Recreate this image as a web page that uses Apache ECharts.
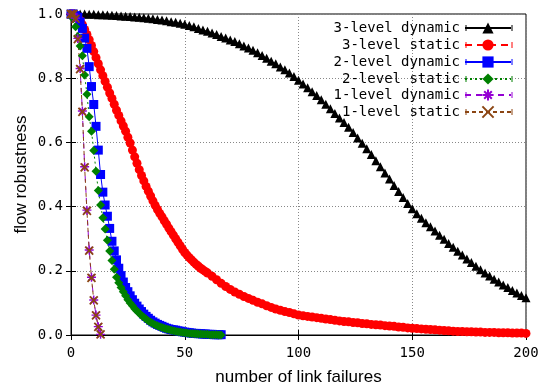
<!DOCTYPE html>
<html><head><meta charset="utf-8">
<script src="https://cdn.jsdelivr.net/npm/echarts@6/dist/echarts.min.js"></script>
<style>html,body{margin:0;padding:0;background:#fff}#c{width:548px;height:387px}</style>
</head><body><div id="c"></div>
<script>
// ---- data ----
const seriesNames = ['3-level dynamic','3-level static','2-level dynamic','2-level static','1-level dynamic','1-level static'];
const xTicks = [0,50,100,150,200];
const yTicks = [0.0,0.2,0.4,0.6,0.8,1.0];

// 3-level dynamic, sampled every 2 failures (x = 0,2,...,200)
const x3d = [0,2,4,6,8,10,12,14,16,18,20,22,24,26,28,30,32,34,36,38,40,42,44,46,48,50,52,54,56,58,60,62,64,66,68,70,72,74,76,78,80,82,84,86,88,90,92,94,96,98,100,102,104,106,108,110,112,114,116,118,120,122,124,126,128,130,132,134,136,138,140,142,144,146,148,150,152,154,156,158,160,162,164,166,168,170,172,174,176,178,180,182,184,186,188,190,192,194,196,198,200];
const dyn3 = [1.000,1.000,1.000,1.000,0.999,0.999,0.998,0.998,0.997,0.996,0.995,0.994,0.993,0.992,0.991,0.990,0.988,0.987,0.985,0.983,0.981,0.979,0.976,0.974,0.971,0.968,0.964,0.960,0.955,0.950,0.946,0.941,0.936,0.930,0.925,0.919,0.914,0.907,0.900,0.894,0.887,0.879,0.871,0.862,0.853,0.845,0.835,0.826,0.816,0.805,0.794,0.782,0.770,0.758,0.746,0.733,0.719,0.705,0.690,0.676,0.662,0.647,0.631,0.614,0.597,0.580,0.562,0.543,0.524,0.505,0.486,0.466,0.447,0.428,0.410,0.393,0.378,0.364,0.350,0.337,0.324,0.311,0.298,0.285,0.273,0.261,0.249,0.237,0.226,0.214,0.203,0.193,0.184,0.174,0.165,0.156,0.148,0.139,0.131,0.123,0.116];

// 3-level static: every failure up to 60, then every 2
const x3s = [0,1,2,3,4,5,6,7,8,9,10,11,12,13,14,15,16,17,18,19,20,21,22,23,24,25,26,27,28,29,30,31,32,33,34,35,36,37,38,39,40,41,42,43,44,45,46,47,48,49,50,51,52,53,54,55,56,57,58,59,60,62,64,66,68,70,72,74,76,78,80,82,84,86,88,90,92,94,96,98,100,102,104,106,108,110,112,114,116,118,120,122,124,126,128,130,132,134,136,138,140,142,144,146,148,150,152,154,156,158,160,162,164,166,168,170,172,174,176,178,180,182,184,186,188,190,192,194,196,198,200];
const sta3 = [1.000,0.999,0.996,0.989,0.980,0.967,0.952,0.936,0.920,0.902,0.883,0.864,0.845,0.826,0.808,0.790,0.772,0.754,0.737,0.719,0.700,0.684,0.667,0.651,0.635,0.616,0.598,0.576,0.555,0.535,0.515,0.497,0.480,0.463,0.448,0.433,0.418,0.404,0.391,0.379,0.368,0.356,0.345,0.333,0.322,0.311,0.300,0.289,0.278,0.267,0.257,0.249,0.241,0.234,0.227,0.220,0.214,0.208,0.203,0.198,0.193,0.183,0.172,0.161,0.151,0.142,0.134,0.127,0.120,0.114,0.108,0.102,0.097,0.091,0.086,0.081,0.077,0.073,0.070,0.066,0.062,0.060,0.058,0.056,0.054,0.052,0.050,0.048,0.046,0.044,0.042,0.041,0.039,0.038,0.036,0.035,0.033,0.032,0.031,0.029,0.028,0.027,0.025,0.024,0.022,0.021,0.020,0.019,0.018,0.017,0.016,0.015,0.014,0.013,0.012,0.011,0.011,0.010,0.010,0.009,0.009,0.008,0.008,0.008,0.007,0.007,0.007,0.006,0.006,0.006,0.005];

// 2-level series, every failure count 0..66
const x2 = [0,1,2,3,4,5,6,7,8,9,10,11,12,13,14,15,16,17,18,19,20,21,22,23,24,25,26,27,28,29,30,31,32,33,34,35,36,37,38,39,40,41,42,43,44,45,46,47,48,49,50,51,52,53,54,55,56,57,58,59,60,61,62,63,64,65,66];
const dyn2 = [1.000,1.000,0.995,0.990,0.975,0.955,0.925,0.893,0.836,0.774,0.718,0.650,0.576,0.500,0.445,0.405,0.370,0.332,0.292,0.262,0.234,0.208,0.185,0.165,0.148,0.135,0.122,0.110,0.099,0.090,0.081,0.073,0.065,0.058,0.052,0.046,0.041,0.037,0.033,0.030,0.027,0.024,0.021,0.019,0.017,0.016,0.015,0.013,0.012,0.010,0.009,0.008,0.007,0.006,0.005,0.005,0.004,0.004,0.003,0.003,0.002,0.002,0.002,0.001,0.001,0.001,0.001];
const sta2 = [1.000,0.985,0.960,0.930,0.900,0.870,0.810,0.750,0.680,0.635,0.575,0.510,0.450,0.405,0.365,0.330,0.295,0.262,0.232,0.205,0.180,0.163,0.148,0.135,0.122,0.110,0.100,0.091,0.082,0.075,0.068,0.061,0.055,0.050,0.044,0.040,0.036,0.032,0.029,0.026,0.023,0.021,0.019,0.017,0.015,0.013,0.012,0.010,0.009,0.008,0.007,0.006,0.005,0.005,0.004,0.004,0.003,0.003,0.002,0.002,0.002,0.001,0.001,0.001,0.001,0.000,0.000];

// 1-level series, 0..13
const x1 = [0,1,2,3,4,5,6,7,8,9,10,11,12,13];
const dyn1 = [1.000,1.000,0.987,0.924,0.830,0.698,0.524,0.389,0.265,0.180,0.109,0.062,0.026,0.002];
const sta1 = [1.000,1.000,0.985,0.922,0.828,0.695,0.522,0.387,0.263,0.178,0.108,0.061,0.025,0.002];

// ---- build ----
function pairs(xs, ys){ return xs.map((x,i)=>[x, ys[i]]); }
const MONO = 'DejaVu Sans Mono';
const SANS = 'Liberation Sans';
const starPath = 'path://M5,0L5,10M0,5L10,5M1.6,1.6L8.4,8.4M8.4,1.6L1.6,8.4';
const crossPath = 'path://M0,0L10,10M10,0L0,10';

const styles = [
  {color:'#000000', symbol:'triangle', size:9, type:'solid'},
  {color:'#ff0000', symbol:'circle', size:9, type:[7,5]},
  {color:'#0000ff', symbol:'rect', size:9, type:'solid'},
  {color:'#008000', symbol:'diamond', size:9, type:[2,3]},
  {color:'#9400d3', symbol:starPath, size:9, type:[6,5], stroke:1.4},
  {color:'#8b4513', symbol:crossPath, size:8, type:[4,3], stroke:1.8}
];
const dataSets = [pairs(x3d,dyn3), pairs(x3s,sta3), pairs(x2,dyn2), pairs(x2,sta2), pairs(x1,dyn1), pairs(x1,sta1)];

const series = seriesNames.map((n,i)=>{
  const s = styles[i];
  return {
    name:n, type:'line', data:dataSets[i], clip:false, animation:false,
    symbol:s.symbol, symbolSize:s.size, showAllSymbol:true,
    lineStyle:{color:s.color, width:1, type:s.type},
    itemStyle: s.stroke ? {color:s.color, borderColor:s.color, borderWidth:s.stroke} : {color:s.color, borderWidth:0},
    emphasis:{disabled:true}
  };
});

const maxLen = Math.max(...seriesNames.map(n=>n.length));
const rowTop = [21,38,55,72,88,105];
const legends = seriesNames.map((n,i)=>({
  data:[n], orient:'vertical', right:36, top:rowTop[i], align:'right', padding:0,
  itemWidth:46, itemHeight:14, selectedMode:false,
  textStyle:{fontFamily:MONO, fontSize:14, color:'#000', lineHeight:14},
  formatter: nm => ' '.repeat(maxLen - nm.length) + nm
}));
// error-bar end caps of the legend samples
const caps = [];
seriesNames.forEach((n,i)=>{
  [466,512].forEach(cx=>{
    caps.push({type:'line', shape:{x1:cx, y1:rowTop[i]+4, x2:cx, y2:rowTop[i]+10}, style:{stroke:styles[i].color, lineWidth:1}, silent:true});
  });
});

const chart = echarts.init(document.getElementById('c'), null, {renderer:'canvas'});
chart.setOption({
  backgroundColor:'#ffffff',
  animation:false,
  grid:{left:71, right:22, top:14, bottom:52, show:true, borderColor:'#000', borderWidth:1, backgroundColor:'transparent', containLabel:false, outerBoundsMode:'none'},
  legend: legends,
  graphic: caps,
  xAxis:[{
    type:'value', min:xTicks[0], max:xTicks[xTicks.length-1], interval:50, position:'bottom',
    name:'number of link failures', nameLocation:'middle', nameGap:34, nameMoveOverlap:false,
    nameTextStyle:{fontFamily:SANS, fontSize:17, color:'#000'},
    axisLine:{show:true, lineStyle:{color:'#000', width:1}},
    axisTick:{show:true, inside:true, length:5, lineStyle:{color:'#000'}},
    axisLabel:{fontFamily:MONO, fontSize:14, color:'#000', margin:11},
    splitLine:{show:true, lineStyle:{color:'#888', type:[1,2], width:1}}
  },{
    type:'value', min:xTicks[0], max:xTicks[xTicks.length-1], interval:50, position:'top',
    axisLine:{show:true, lineStyle:{color:'#000'}},
    axisTick:{show:true, inside:true, length:5, lineStyle:{color:'#000'}},
    axisLabel:{show:false}, splitLine:{show:false}
  }],
  yAxis:[{
    type:'value', min:yTicks[0], max:yTicks[yTicks.length-1], interval:0.2, position:'left',
    name:'flow robustness', nameLocation:'middle', nameGap:41, nameMoveOverlap:false,
    nameTextStyle:{fontFamily:SANS, fontSize:17, color:'#000'},
    axisLine:{show:true, lineStyle:{color:'#000', width:1}},
    axisTick:{show:true, inside:true, length:5, lineStyle:{color:'#000'}},
    axisLabel:{fontFamily:MONO, fontSize:14, color:'#000', margin:8, formatter:v=>v.toFixed(1)},
    splitLine:{show:true, lineStyle:{color:'#888', type:[1,2], width:1}}
  },{
    type:'value', min:yTicks[0], max:yTicks[yTicks.length-1], interval:0.2, position:'right',
    axisLine:{show:true, lineStyle:{color:'#000'}},
    axisTick:{show:true, inside:true, length:5, lineStyle:{color:'#000'}},
    axisLabel:{show:false}, splitLine:{show:false}
  }],
  series: series
});
</script></body></html>
